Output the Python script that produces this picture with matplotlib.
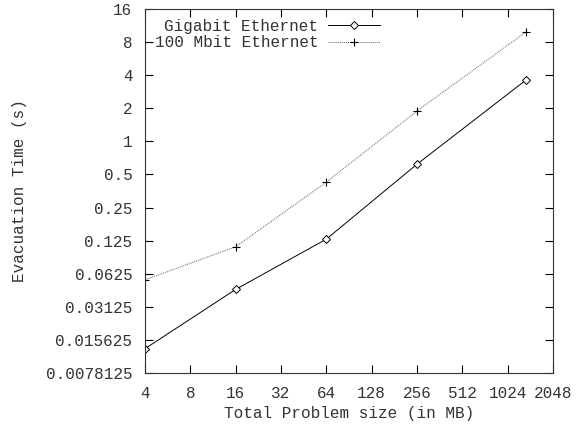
import matplotlib
matplotlib.use("Agg")
import matplotlib.pyplot as plt
from matplotlib.ticker import FixedLocator, FixedFormatter, NullLocator

# problem sizes (MB) and evacuation times (s)
sizes = [4, 16, 64, 256, 1350]
gigabit = [0.013, 0.045, 0.129, 0.62, 3.6]
mbit100 = [0.055, 0.110, 0.426, 1.89, 9.85]

x_ticks = [4, 8, 16, 32, 64, 128, 256, 512, 1024, 2048]
y_ticks = [0.0078125, 0.015625, 0.03125, 0.0625, 0.125, 0.25, 0.5, 1, 2, 4, 8, 16]
y_labels = ["0.0078125", "0.015625", "0.03125", "0.0625", "0.125", "0.25",
            "0.5", "1", "2", "4", "8", "16"]

plt.rcParams['font.family'] = ['Liberation Mono', 'DejaVu Sans Mono']
plt.rcParams['font.size'] = 11.5

fig = plt.figure(figsize=(5.84, 4.25), dpi=100)
ax = fig.add_axes([145/584, 1 - 373/425, 408/584, 364/425])

ax.plot(sizes, gigabit, color='black', lw=0.7, marker='D', markersize=4,
        markerfacecolor='white', markeredgewidth=0.7, label='Gigabit Ethernet')
ax.plot(sizes, mbit100, color='#666666', lw=0.7, ls=(0, (1, 1)), marker='+',
        markersize=5.5, markeredgecolor='black', markeredgewidth=0.8,
        label='100 Mbit Ethernet')

ax.set_xscale('log', base=2)
ax.set_yscale('log', base=2)
ax.set_xlim(4, 2048)
ax.set_ylim(0.0078125, 16)

ax.xaxis.set_major_locator(FixedLocator(x_ticks))
ax.xaxis.set_major_formatter(FixedFormatter([str(v) for v in x_ticks]))
ax.yaxis.set_major_locator(FixedLocator(y_ticks))
ax.yaxis.set_major_formatter(FixedFormatter(y_labels))
ax.xaxis.set_minor_locator(NullLocator())
ax.yaxis.set_minor_locator(NullLocator())

ax.tick_params(direction='in', length=6, width=0.8, top=True, right=True,
               colors='black', labelcolor='#333333', pad=9)
for s in ax.spines.values():
    s.set_linewidth(0.8)
    s.set_color('#333333')

ax.set_xlabel('Total Problem size (in MB)', color='#333333')
ax.set_ylabel('Evacuation Time (s)', color='#333333')
ax.xaxis.set_label_coords(0.5, -0.092)
ax.yaxis.set_label_coords(-0.29, 0.5)

leg = ax.legend(loc='upper left', frameon=False, markerfirst=False,
                handlelength=3.3, borderaxespad=0.3, labelspacing=0.1,
                handletextpad=0.6, borderpad=0.3)
for t in leg.get_texts():
    t.set_color('#333333')

fig.savefig('out.png', dpi=100)
